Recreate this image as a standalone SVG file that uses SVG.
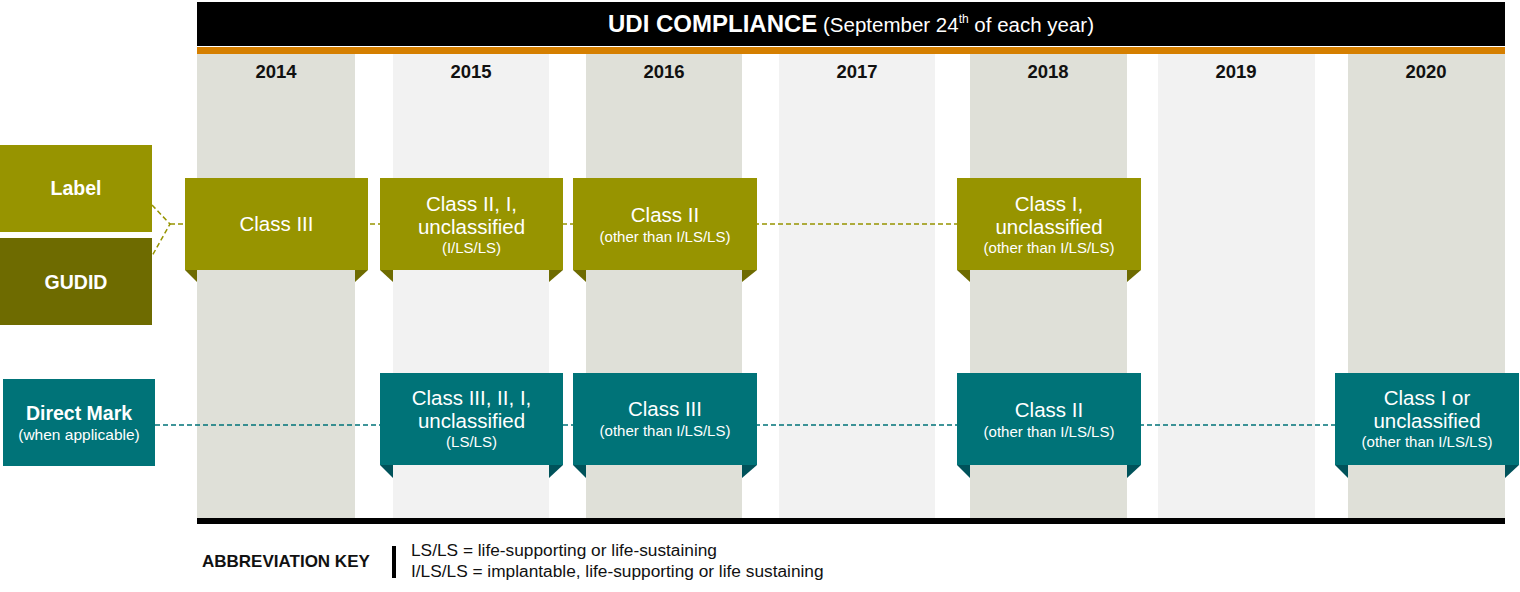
<svg xmlns="http://www.w3.org/2000/svg" width="1520" height="592" viewBox="0 0 1520 592">
<style>
.t{font-family:"Liberation Sans",Arial,sans-serif;}
.yr{font-family:"Liberation Sans",Arial,sans-serif;font-weight:bold;font-size:18.5px;fill:#111;text-anchor:middle;}
.colD{fill:#DFE0D8;}
.colL{fill:#F2F2F2;}
.ol{fill:#979400;}
.olT{fill:#6E6B00;}
.te{fill:#007378;}
.teT{fill:#00525A;}
.bw{font-family:"Liberation Sans",Arial,sans-serif;fill:#fff;text-anchor:middle;}
.m{font-size:20.5px;}
.s{font-size:15px;}
.h{font-size:19.5px;font-weight:bold;}
</style>
<rect width="1520" height="592" fill="#fff"/>
<g id="columns">
<rect class="colD" x="197" y="54" width="158" height="464"/>
<rect class="colL" x="393" y="54" width="156" height="464"/>
<rect class="colD" x="586" y="54" width="156" height="464"/>
<rect class="colL" x="779" y="54" width="156" height="464"/>
<rect class="colD" x="970" y="54" width="157" height="464"/>
<rect class="colL" x="1158" y="54" width="157" height="464"/>
<rect class="colD" x="1348" y="54" width="157" height="464"/>
<text class="yr" x="276" y="78">2014</text>
<text class="yr" x="471" y="78">2015</text>
<text class="yr" x="664" y="78">2016</text>
<text class="yr" x="857" y="78">2017</text>
<text class="yr" x="1048" y="78">2018</text>
<text class="yr" x="1236" y="78">2019</text>
<text class="yr" x="1426" y="78">2020</text>
</g>
<g id="header">
<rect x="197" y="2" width="1308" height="44" fill="#000"/>
<rect x="197" y="47" width="1308" height="7" fill="#D57F00"/>
<text class="t" x="851" y="32" fill="#fff" text-anchor="middle"><tspan font-weight="bold" font-size="24px">UDI COMPLIANCE</tspan><tspan font-size="20.5px"> (September 24</tspan><tspan font-size="12px" dy="-9">th</tspan><tspan font-size="20.5px" dy="9"> of each year)</tspan></text>
<rect x="197" y="518" width="1308" height="6" fill="#000"/>
</g>
<g id="connectors" fill="none" stroke-width="1.5" stroke-dasharray="5,3">
<polyline points="152,205 170,224 152,256" stroke="#979400"/>
<line x1="170" y1="224" x2="957" y2="224" stroke="#979400"/>
<line x1="155" y1="425" x2="1335" y2="425" stroke="#007378"/>
</g>
<g id="label">
<rect class="ol" x="0" y="145" width="152" height="87"/>
<text class="bw h" x="76" y="195">Label</text>
</g>
<g id="gudid">
<rect class="olT" x="0" y="238" width="152" height="87"/>
<text class="bw h" x="76" y="289">GUDID</text>
</g>
<g id="directmark">
<rect class="te" x="3" y="379" width="152" height="87"/>
<text class="bw h" x="79" y="420">Direct Mark</text>
<text class="bw" x="79" y="440" font-size="15.5px">(when applicable)</text>
</g>
<g id="l2014">
<rect class="ol" x="185" y="178" width="183" height="92"/>
<polygon class="olT" points="185,270 197,270 197,282"/>
<polygon class="olT" points="355,270 368,270 355,282"/>
<text class="bw m" x="276.5" y="231">Class III</text>
</g>
<g id="l2015">
<rect class="ol" x="380" y="178" width="183" height="92"/>
<polygon class="olT" points="380,270 393,270 393,282"/>
<polygon class="olT" points="549,270 563,270 549,282"/>
<text class="bw m" x="471.5" y="211">Class II, I,</text>
<text class="bw m" x="471.5" y="234">unclassified</text>
<text class="bw s" x="471.5" y="253">(I/LS/LS)</text>
</g>
<g id="l2016">
<rect class="ol" x="573" y="178" width="184" height="92"/>
<polygon class="olT" points="573,270 586,270 586,282"/>
<polygon class="olT" points="742,270 757,270 742,282"/>
<text class="bw m" x="665" y="222">Class II</text>
<text class="bw s" x="665" y="242">(other than I/LS/LS)</text>
</g>
<g id="l2018">
<rect class="ol" x="957" y="178" width="184" height="92"/>
<polygon class="olT" points="957,270 970,270 970,282"/>
<polygon class="olT" points="1127,270 1141,270 1127,282"/>
<text class="bw m" x="1049" y="211">Class I,</text>
<text class="bw m" x="1049" y="234">unclassified</text>
<text class="bw s" x="1049" y="253">(other than I/LS/LS)</text>
</g>
<g id="d2015">
<rect class="te" x="380" y="373" width="183" height="92"/>
<polygon class="teT" points="380,465 393,465 393,478"/>
<polygon class="teT" points="549,465 563,465 549,478"/>
<text class="bw m" x="471.5" y="405">Class III, II, I,</text>
<text class="bw m" x="471.5" y="428">unclassified</text>
<text class="bw s" x="471.5" y="447">(LS/LS)</text>
</g>
<g id="d2016">
<rect class="te" x="573" y="373" width="184" height="92"/>
<polygon class="teT" points="573,465 586,465 586,478"/>
<polygon class="teT" points="742,465 757,465 742,478"/>
<text class="bw m" x="665" y="416">Class III</text>
<text class="bw s" x="665" y="436">(other than I/LS/LS)</text>
</g>
<g id="d2018">
<rect class="te" x="957" y="373" width="184" height="92"/>
<polygon class="teT" points="957,465 970,465 970,478"/>
<polygon class="teT" points="1127,465 1141,465 1127,478"/>
<text class="bw m" x="1049" y="417">Class II</text>
<text class="bw s" x="1049" y="437">(other than I/LS/LS)</text>
</g>
<g id="d2020">
<rect class="te" x="1335" y="373" width="184" height="92"/>
<polygon class="teT" points="1335,465 1348,465 1348,478"/>
<polygon class="teT" points="1505,465 1519,465 1505,478"/>
<text class="bw m" x="1427" y="405">Class I or</text>
<text class="bw m" x="1427" y="428">unclassified</text>
<text class="bw s" x="1427" y="447">(other than I/LS/LS)</text>
</g>
<g id="key">
<text class="t" x="202" y="567" font-size="17px" font-weight="bold" fill="#111">ABBREVIATION KEY</text>
<rect x="392" y="546" width="4" height="32" fill="#000"/>
<text class="t" x="411" y="556" font-size="17.3px" fill="#111">LS/LS = life-supporting or life-sustaining</text>
<text class="t" x="411" y="577" font-size="17.3px" fill="#111">I/LS/LS = implantable, life-supporting or life sustaining</text>
</g>
</svg>
